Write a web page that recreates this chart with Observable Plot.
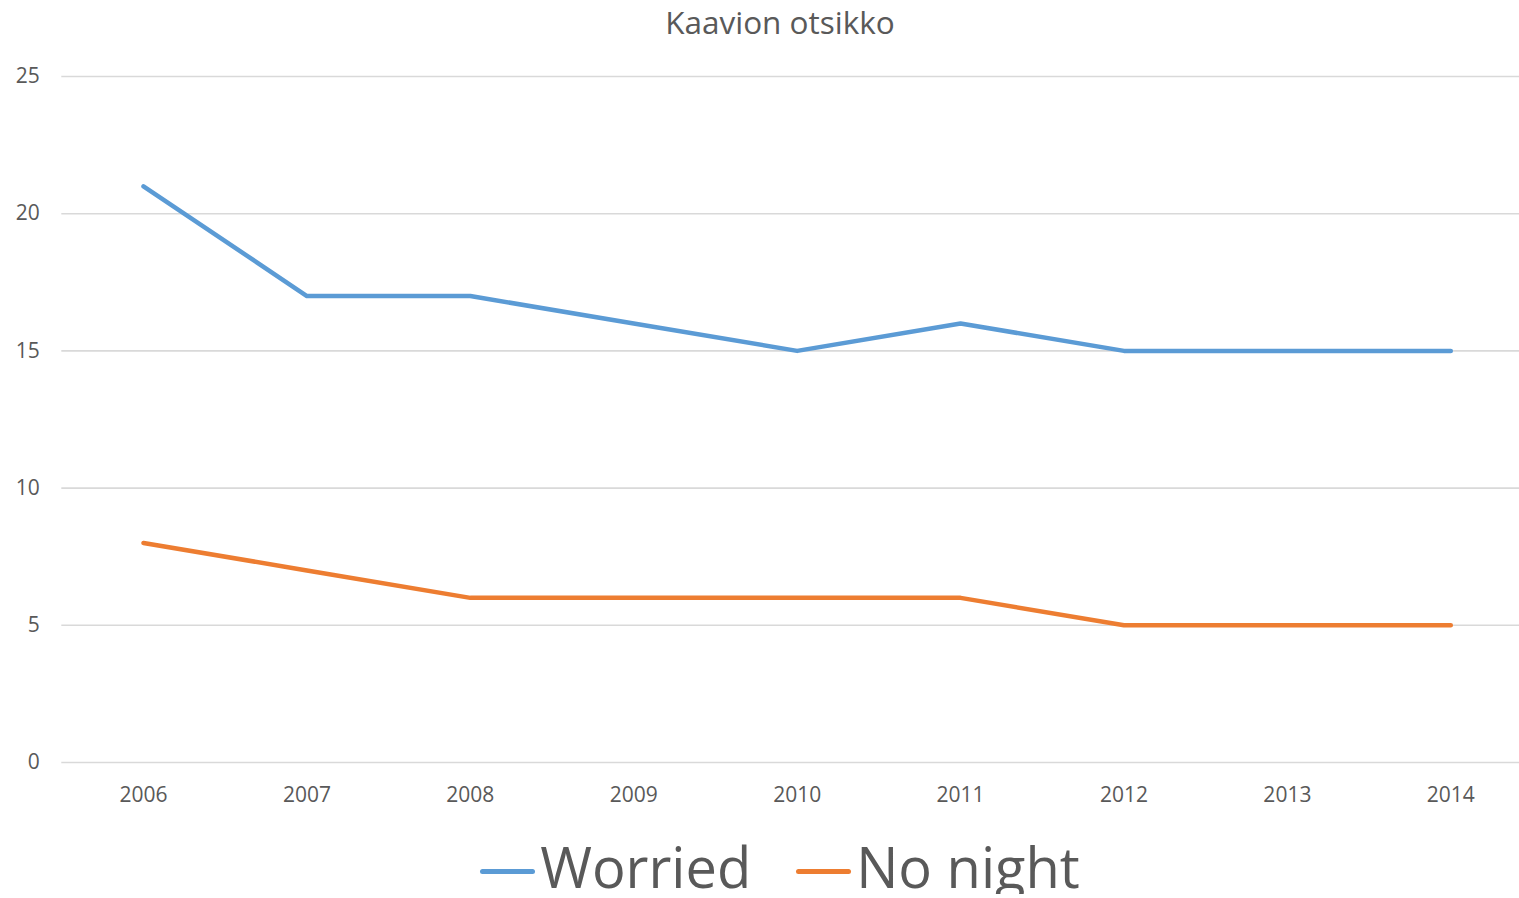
<!DOCTYPE html>
<html>
<head>
<meta charset="utf-8">
<script src="https://cdn.jsdelivr.net/npm/d3@7"></script>
<script src="https://cdn.jsdelivr.net/npm/@observablehq/plot@0.6"></script>
<style>
  html, body { margin: 0; padding: 0; background: #fff; overflow: hidden; }
  #wrap { width: 1560px; font-family: "Open Sans", sans-serif; color: #595959; }
  #title { height: 44px; line-height: 44px; font-size: 31.5px; text-align: center; }
  #legend { margin-top: 4px; display: flex; justify-content: center; align-items: center;
            font-size: 56px; line-height: 56px; height: 56px; }
  .item { display: flex; align-items: center; }
  .sw { width: 55px; height: 5px; border-radius: 3px; margin-right: 5px; position: relative; top: 5px; }
  .gap { width: 45px; }
</style>
</head>
<body>
<div id="wrap">
  <div id="title">Kaavion otsikko</div>
  <div id="chart"></div>
  <div id="legend"></div>
</div>
<script>
const years = [2006, 2007, 2008, 2009, 2010, 2011, 2012, 2013, 2014];
const worried = [21, 17, 17, 16, 15, 16, 15, 15, 15];
const noNight = [8, 7, 6, 6, 6, 6, 5, 5, 5];
const seriesNames = ["Worried", "No night"];
const seriesColors = ["#5B9BD5", "#ED7D31"];
const yTicks = [0, 5, 10, 15, 20, 25];

const seriesValues = [worried, noNight];
const data = seriesNames.flatMap((name, s) =>
  years.map((year, i) => ({ year, value: seriesValues[s][i], series: name })));

const chart = Plot.plot({
  width: 1532, height: 790,
  marginLeft: 61.3, marginRight: 0, marginTop: 32, marginBottom: 72,
  style: { fontFamily: "Open Sans", fontSize: "21px", color: "#595959", background: "transparent" },
  x: { domain: [2005.5, 2014.5] },
  y: { domain: [0, 25] },
  color: { domain: seriesNames, range: seriesColors },
  marks: [
    Plot.gridY(yTicks, { stroke: "#d9d9d9", strokeOpacity: 1, strokeWidth: 1.6 }),
    Plot.axisY(yTicks, { tickSize: 0, tickPadding: 22, label: null }),
    Plot.axisX(years, { tickSize: 0, tickPadding: 25, tickFormat: d => String(d), label: null }),
    Plot.line(data, { x: "year", y: "value", z: "series", stroke: "series",
      strokeWidth: 4.5, strokeLinecap: "round", strokeLinejoin: "round" })
  ]
});
document.getElementById("chart").appendChild(chart);

const legend = document.getElementById("legend");
seriesNames.forEach((name, i) => {
  if (i > 0) { const g = document.createElement("div"); g.className = "gap"; legend.appendChild(g); }
  const item = document.createElement("div"); item.className = "item";
  const sw = document.createElement("div"); sw.className = "sw"; sw.style.background = seriesColors[i];
  const t = document.createElement("span"); t.textContent = name;
  item.appendChild(sw); item.appendChild(t); legend.appendChild(item);
});
</script>
</body>
</html>
